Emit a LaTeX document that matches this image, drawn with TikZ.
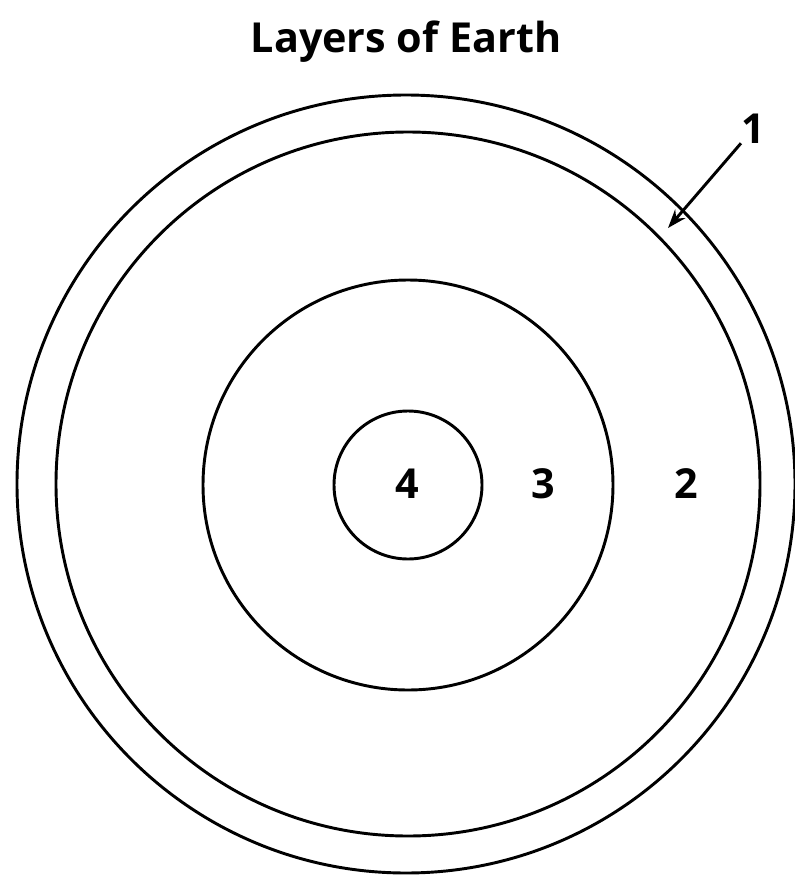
\documentclass[tikz,border=0pt]{standalone}
\usepackage{fontspec}
\setmainfont{Open Sans}
\usetikzlibrary{arrows.meta}
\tikzset{
  layer/.style={line width=2.2pt},
  lbl/.style={anchor=base,inner sep=0pt,font=\fontsize{31}{34}\selectfont\bfseries},
  pointer/.style={line width=2.2pt,-{Stealth[length=14pt,width=10pt]}}
}
\begin{document}
\begin{tikzpicture}[x=0.75pt,y=-0.75pt]
\useasboundingbox (0,0) rectangle (794,878);
\node[lbl] (title) at (406,52) {Layers of Earth};
\draw[layer] (406,484) circle (389);
\draw[layer] (408,484) circle (352);
\draw[layer] (408,485) circle (205);
\draw[layer] (408,485) circle (74);
\node[lbl] (core) at (407,498) {4};
\node[lbl] (outer) at (543,498) {3};
\node[lbl] (mantle) at (686,498) {2};
\node[lbl] (crust) at (753,143) {1};
\coordinate (tip) at (668,228);
\draw[pointer] (crust.south west) -- (tip);
\end{tikzpicture}
\end{document}
